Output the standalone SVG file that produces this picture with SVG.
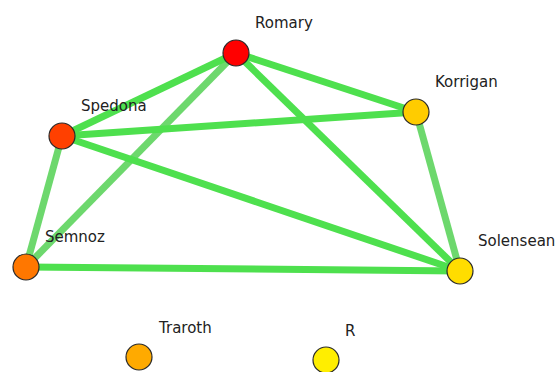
<svg xmlns="http://www.w3.org/2000/svg" width="558" height="372" viewBox="0 0 558 372">
<style>
.e{stroke:#4ee04e;stroke-width:7;stroke-linecap:butt;fill:none}
.l{stroke:#6dd86d}
.n{stroke:#2a2a2a;stroke-width:1.2}
.t{font-family:"DejaVu Sans",sans-serif;font-size:15px;fill:#222}
</style>
<rect width="558" height="372" fill="#ffffff"/>
<g id="edges">
<line class="e l" x1="236" y1="53" x2="26" y2="267"/>
<line class="e l" x1="62" y1="136" x2="26" y2="267"/>
<line class="e l" x1="416" y1="112" x2="460" y2="271"/>
<line class="e" x1="236" y1="53" x2="62" y2="136"/>
<line class="e" x1="236" y1="53" x2="416" y2="112"/>
<line class="e" x1="236" y1="53" x2="460" y2="271"/>
<line class="e" x1="62" y1="136" x2="416" y2="112"/>
<line class="e" x1="62" y1="136" x2="460" y2="271"/>
<line class="e" x1="26" y1="267" x2="460" y2="271"/>
</g>
<g id="Romary"><circle class="n" cx="236" cy="53" r="13" fill="#ff0000"/><text class="t" x="255" y="28">Romary</text></g>
<g id="Korrigan"><circle class="n" cx="416" cy="112" r="13" fill="#ffcc00"/><text class="t" x="435" y="87">Korrigan</text></g>
<g id="Spedona"><circle class="n" cx="62" cy="136" r="13" fill="#ff4000"/><text class="t" x="81" y="111">Spedona</text></g>
<g id="Semnoz"><circle class="n" cx="26" cy="267" r="13" fill="#ff7700"/><text class="t" x="45" y="242">Semnoz</text></g>
<g id="Solensean"><circle class="n" cx="460" cy="271" r="13" fill="#ffdd00"/><text class="t" x="478" y="246">Solensean</text></g>
<g id="Traroth"><circle class="n" cx="139" cy="357" r="13" fill="#ffaa00"/><text class="t" x="159" y="333">Traroth</text></g>
<g id="R"><circle class="n" cx="326" cy="360" r="13" fill="#ffee00"/><text class="t" x="345" y="336">R</text></g>
</svg>
